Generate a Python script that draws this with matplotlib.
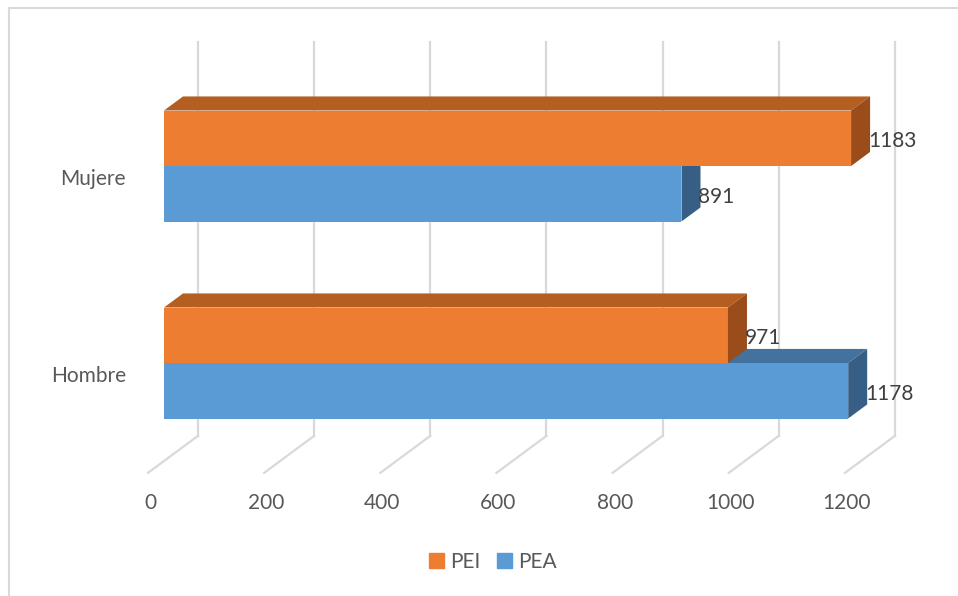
import matplotlib.pyplot as plt
from matplotlib.patches import Polygon, Patch
from matplotlib.lines import Line2D

plt.rcParams['font.family'] = ['Lato', 'DejaVu Sans']
plt.rcParams['font.size'] = 15

# data
categories = ["Hombre", "Mujere"]
pei = [971, 1183]
pea = [1178, 891]
ticks = [0, 200, 400, 600, 800, 1000, 1200]

TEXT = "#595959"
GRID = "#D9D9D9"
ORANGE = ("#ED7D31", "#B45E22", "#9A4C1B")  # front, top, side
BLUE = ("#5B9BD5", "#43729F", "#375F86")

# pixel scales of the oblique view
XS = 0.5808   # px per value unit
YS = 197.0    # px per category step
SLOPE = 0.74


def off(d):
    # shift of d px into depth (towards back = up-right)
    return d / XS, SLOPE * d / YS


fig = plt.figure(figsize=(9.58, 5.96), dpi=100)
ax = fig.add_axes([0, 0, 1, 1])
ax.set_xlim(-164 / XS, (958 - 164) / XS)
ax.set_ylim((363 - 596) / YS, 363 / YS)
ax.axis("off")

floor_y = (363 - 461) / YS
wall_top = (363 - 42) / YS
bx, by = off(34)
fx, fy = off(-16)

# back wall grid + floor lines
for v in ticks:
    ax.plot([v + bx, v + bx], [floor_y + by, wall_top], color=GRID, lw=1.6, zorder=1)
    ax.plot([v + bx, v + fx], [floor_y + by, floor_y + fy], color=GRID, lw=1.6, zorder=1)
    ax.text(v + fx + 2 / XS, (363 - 503) / YS, str(v), ha="center", va="center",
            color=TEXT)

h = 55.5 / YS
dx, dy = off(19)


def bar3d(y0, val, cols, z):
    y1 = y0 + h
    ax.barh(y0 + h / 2, val, height=h, left=0, color=cols[0], lw=0, zorder=z)
    top = [(0, y1), (val, y1), (val + dx, y1 + dy), (dx, y1 + dy)]
    side = [(val, y0), (val, y1), (val + dx, y1 + dy), (val + dx, y0 + dy)]
    ax.add_patch(Polygon(top, closed=True, fc=cols[1], lw=0, zorder=z))
    ax.add_patch(Polygon(side, closed=True, fc=cols[2], lw=0, zorder=z))
    ax.text(val + 17 / XS, y0 + h / 2 - 3 / YS, str(val), ha="left", va="center",
            color="#404040", zorder=z + 1)


for i, cat in enumerate(categories):
    bar3d(i - h, pea[i], BLUE, 2 + 2 * i)
    bar3d(i, pei[i], ORANGE, 3 + 2 * i)
    ax.text(-38 / XS, i - 13 / YS, cat, ha="right", va="center", color=TEXT)

handles = [Patch(color=ORANGE[0]), Patch(color=BLUE[0])]
fig.legend(handles, ["PEI", "PEA"], loc="center",
           bbox_to_anchor=(493 / 958, 1 - 562 / 596), ncol=2, frameon=False,
           handlelength=0.7, handleheight=0.7, handletextpad=0.3,
           columnspacing=0.8, labelcolor=TEXT)

# chart border (top and left visible)
fig.add_artist(Line2D([8.5 / 958, 1], [1 - 7.5 / 596, 1 - 7.5 / 596],
                      color=GRID, lw=1.5))
fig.add_artist(Line2D([8.5 / 958, 8.5 / 958], [0, 1 - 7.5 / 596],
                      color=GRID, lw=1.5))

fig.savefig("out.png", dpi=100, facecolor="white")
